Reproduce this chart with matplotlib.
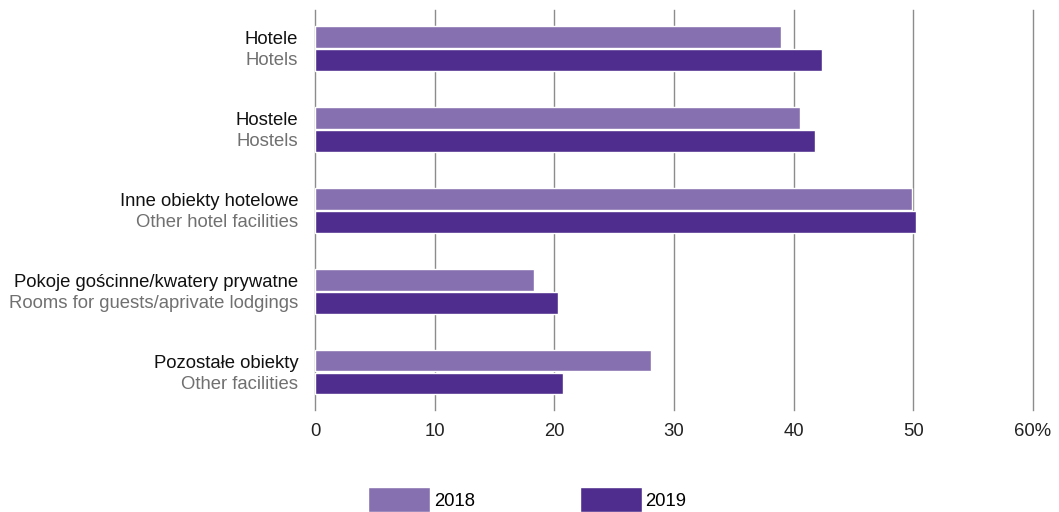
import numpy as np
import matplotlib.pyplot as plt

plt.rcParams['font.family'] = ['Liberation Sans', 'DejaVu Sans']

# categories (Polish / English)
labels_pl = ['Hotele', 'Hostele', 'Inne obiekty hotelowe',
             'Pokoje gościnne/kwatery prywatne', 'Pozostałe obiekty']
labels_en = ['Hotels', 'Hostels', 'Other hotel facilities',
             'Rooms for guests/aprivate lodgings', 'Other facilities']

# values in %
vals_2018 = [38.9, 40.5, 49.9, 18.3, 28.1]
vals_2019 = [42.4, 41.8, 50.2, 20.3, 20.7]

c2018 = '#8770b0'
c2019 = '#4f2d8e'

fig = plt.figure(figsize=(10.59, 5.12), dpi=100)
ax = fig.add_axes([315/1059, 1 - 410/512, (1033 - 315)/1059, 400/512])

y = np.arange(len(labels_pl))
off = 0.143
h = 0.27
ax.barh(y - off, vals_2018, height=h, color=c2018, edgecolor='white', linewidth=1, label='2018', zorder=3)
ax.barh(y + off, vals_2019, height=h, color=c2019, edgecolor='white', linewidth=1, label='2019', zorder=3)

ax.set_xlim(0, 60)
ax.set_ylim(4.47, -0.48)
ax.set_xticks(range(0, 70, 10))
ax.set_xticklabels(['0', '10', '20', '30', '40', '50', '60%'], fontsize=13.3, color='#222222')
ax.xaxis.grid(True, color='#8c8c8c', linewidth=1, zorder=0)
for gl in ax.get_xgridlines():
    gl.set_clip_on(False)
ax.tick_params(axis='x', length=0, pad=9)
ax.set_yticks([])
for s in ax.spines.values():
    s.set_visible(False)

# two-line category labels
for i in range(len(labels_pl)):
    ax.text(-1.4, i - 0.11, labels_pl[i], ha='right', va='center', fontsize=13.3, color='#111111')
    ax.text(-1.4, i + 0.15, labels_en[i], ha='right', va='center', fontsize=13.3, color='#707070')

fig.legend(loc='lower center', bbox_to_anchor=(0.498, -0.015), ncol=2, frameon=False,
           fontsize=13.3, handlelength=3.35, handleheight=1.7, handletextpad=0.2,
           columnspacing=5.7, borderaxespad=0)

fig.savefig('out.png', dpi=100)
